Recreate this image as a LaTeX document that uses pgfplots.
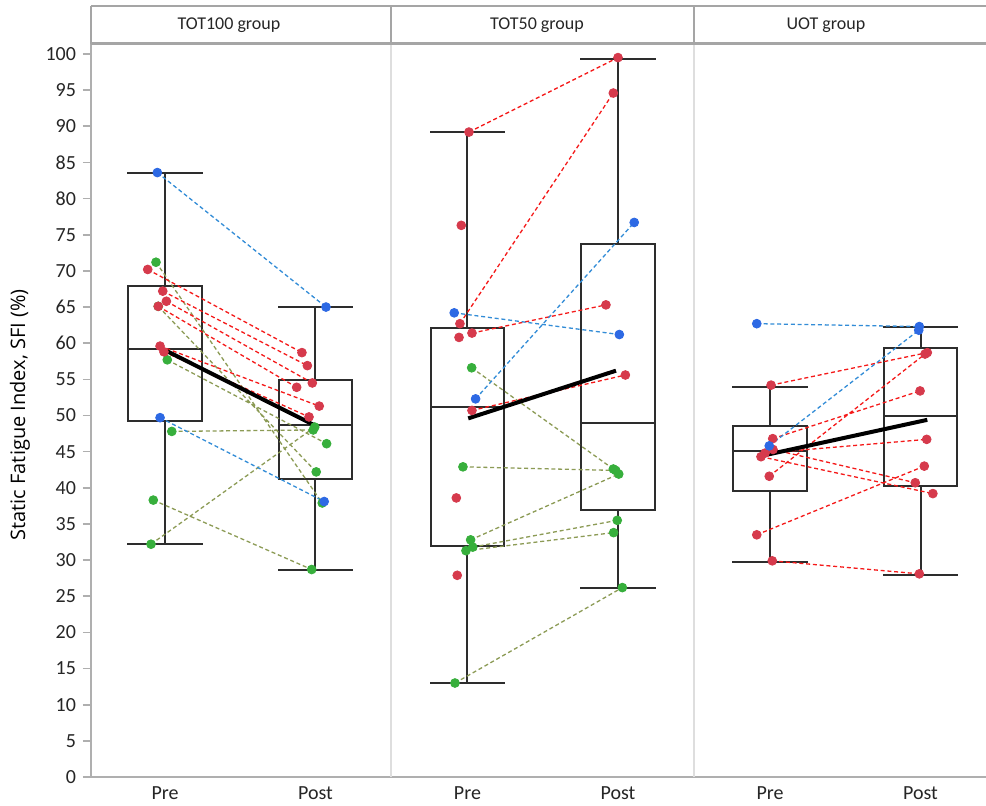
\documentclass[border=0pt]{standalone}
\usepackage{pgfplots}
\pgfplotsset{compat=1.18}
\usepackage{fontspec}
\setmainfont{Carlito}
\newfontfamily\labfont{Open Sans}

\definecolor{redpt}{RGB}{214,58,76}
\definecolor{redln}{RGB}{245,25,25}
\definecolor{bluept}{RGB}{45,105,228}
\definecolor{blueln}{RGB}{50,140,215}
\definecolor{greenpt}{RGB}{55,175,60}
\definecolor{greenln}{RGB}{140,155,85}
\definecolor{boxc}{RGB}{45,45,45}
\definecolor{axgray}{RGB}{175,175,175}
\definecolor{divgray}{RGB}{222,222,222}
\definecolor{hdrgray}{RGB}{165,165,165}

\pgfplotsset{
  panel/.style={
    scale only axis, height=366.5pt, ymin=0, ymax=101.38,
    axis lines*=left,
    axis line style={draw=axgray, line width=1pt},
    xtick={1,2}, xticklabels={Pre,Post},
    x tick style={draw=none},
    xticklabel style={yshift=2.5pt},
    tick align=outside, major tick length=4pt,
    y tick style={draw=axgray, line width=0.8pt},
    tick label style={font=\fontsize{10pt}{12pt}\selectfont, text=black!85},
    /pgf/number format/assume math mode=true,
    clip=false,
  },
  dl/.style={dash pattern=on 2pt off 1.4pt, line width=0.65pt, forget plot, unbounded coords=jump, mark=none},
  pts/.style={only marks, mark=*, mark size=2.2pt, forget plot},
  boxs/.style={draw=boxc, line width=1pt, solid, mark=none, forget plot, unbounded coords=jump, line cap=rect, line join=miter},
  meanl/.style={black, line width=2pt, mark=none, forget plot},
}

\begin{document}
\begin{tikzpicture}
\fill[white] (0pt,0pt) rectangle (493pt,-402.5pt);

% ---------------- Panel 1: TOT100 ----------------
\begin{axis}[panel, at={(45.5pt,-388.5pt)}, anchor=south west,
  width=150pt, xmin=0.508, xmax=2.502,
  ytick={0,5,...,100},
  ylabel={\labfont\fontsize{10pt}{12pt}\selectfont Static Fatigue Index, SFI (\%)},
  ylabel style={at={(axis description cs:-0.237,0.494)}, anchor=center},
]
% boxes: Pre (lw 32.2, q1 49.3, med 59.2, q3 67.9, uw 83.6); Post (28.7, 41.2, 48.7, 54.9, 65.0)
\addplot[boxs] coordinates {
 (0.755,49.3) (1.245,49.3) (1.245,67.9) (0.755,67.9) (0.755,49.3) (1,nan)
 (0.755,59.2) (1.245,59.2) (1,nan)
 (1,49.3) (1,32.2) (1,nan) (0.755,32.2) (1.245,32.2) (1,nan)
 (1,67.9) (1,83.6) (1,nan) (0.755,83.6) (1.245,83.6) (1,nan)
 (1.755,41.2) (2.245,41.2) (2.245,54.9) (1.755,54.9) (1.755,41.2) (1,nan)
 (1.755,48.7) (2.245,48.7) (1,nan)
 (2,41.2) (2,28.7) (1,nan) (1.755,28.7) (2.245,28.7) (1,nan)
 (2,54.9) (2,65.0) (1,nan) (1.755,65.0) (2.245,65.0)
};
% lines
\addplot[dl, greenln] coordinates {(0.940,71.2) (2.045,37.9) (1,nan) (0.955,65.1) (2.005,42.2) (1,nan) (1.015,57.7) (2.074,46.1) (1,nan) (1.045,47.8) (1.985,48.0) (1,nan) (0.907,32.2) (1.995,48.4) (1,nan) (0.922,38.3) (1.975,28.7)};
\addplot[dl, redln] coordinates {(0.885,70.2) (1.910,58.7) (1,nan) (0.985,67.2) (1.946,56.9) (1,nan) (1.009,65.8) (1.979,54.5) (1,nan) (0.955,65.1) (1.875,53.9) (1,nan) (0.967,59.6) (2.025,51.3) (1,nan) (0.993,58.8) (1.957,49.8)};
\addplot[dl, blueln] coordinates {(0.949,83.6) (2.070,65.0) (1,nan) (0.967,49.7) (2.058,38.1)};
% points
\addplot[pts, greenpt] coordinates {(0.940,71.2) (0.955,65.1) (1.015,57.7) (1.045,47.8) (0.922,38.3) (0.907,32.2) (2.045,37.9) (2.005,42.2) (2.074,46.1) (1.985,48.0) (1.995,48.4) (1.975,28.7)};
\addplot[pts, redpt] coordinates {(0.885,70.2) (0.985,67.2) (1.009,65.8) (0.955,65.1) (0.967,59.6) (0.993,58.8) (1.910,58.7) (1.946,56.9) (1.979,54.5) (1.875,53.9) (2.025,51.3) (1.957,49.8)};
\addplot[pts, bluept] coordinates {(0.949,83.6) (0.967,49.7) (2.070,65.0) (2.058,38.1)};
\addplot[meanl] coordinates {(1.007,58.96) (2.008,48.5)};
\end{axis}

% ---------------- Panel 2: TOT50 ----------------
\begin{axis}[panel, at={(195.5pt,-388.5pt)}, anchor=south west,
  width=151.5pt, xmin=0.492, xmax=2.505,
  ytick=\empty,
  y axis line style={draw=divgray, line width=1pt},
]
% boxes: Pre (13.0, 31.9, 51.2, 62.1, 89.2); Post (26.1, 36.9, 48.9, 73.7, 99.3)
\addplot[boxs] coordinates {
 (0.755,31.9) (1.245,31.9) (1.245,62.1) (0.755,62.1) (0.755,31.9) (1,nan)
 (0.755,51.2) (1.245,51.2) (1,nan)
 (1,31.9) (1,13.0) (1,nan) (0.755,13.0) (1.245,13.0) (1,nan)
 (1,62.1) (1,89.2) (1,nan) (0.755,89.2) (1.245,89.2) (1,nan)
 (1.755,36.9) (2.245,36.9) (2.245,73.7) (1.755,73.7) (1.755,36.9) (1,nan)
 (1.755,48.9) (2.245,48.9) (1,nan)
 (2,36.9) (2,26.1) (1,nan) (1.755,26.1) (2.245,26.1) (1,nan)
 (2,73.7) (2,99.3) (1,nan) (1.755,99.3) (2.245,99.3)
};
\addplot[dl, greenln] coordinates {(1.028,56.6) (1.969,42.6) (1,nan) (0.970,42.9) (1.985,42.4) (1,nan) (1.021,32.8) (2.005,41.9) (1,nan) (1.035,31.8) (1.995,35.5) (1,nan) (0.990,31.3) (1.971,33.8) (1,nan) (0.917,13.0) (2.029,26.2)};
\addplot[dl, redln] coordinates {(1.010,89.2) (2.000,99.5) (1,nan) (0.950,62.7) (1.969,94.6) (1,nan) (1.030,61.4) (1.920,65.3) (1,nan) (1.030,50.7) (2.049,55.6)};
\addplot[dl, blueln] coordinates {(0.912,64.2) (2.009,61.2) (1,nan) (1.054,52.3) (2.108,76.7)};
\addplot[pts, greenpt] coordinates {(1.028,56.6) (0.970,42.9) (1.021,32.8) (1.035,31.8) (0.990,31.3) (0.917,13.0) (1.969,42.6) (1.985,42.4) (2.005,41.9) (1.995,35.5) (1.971,33.8) (2.029,26.2)};
\addplot[pts, redpt] coordinates {(1.010,89.2) (0.959,76.3) (0.950,62.7) (1.030,61.4) (0.944,60.8) (1.030,50.7) (0.926,38.6) (0.932,27.9) (2.000,99.5) (1.969,94.6) (1.920,65.3) (2.049,55.6)};
\addplot[pts, bluept] coordinates {(0.912,64.2) (1.054,52.3) (2.108,76.7) (2.009,61.2)};
\addplot[meanl] coordinates {(1.005,49.6) (1.987,56.2)};
\end{axis}

% ---------------- Panel 3: UOT ----------------
\begin{axis}[panel, at={(347pt,-388.5pt)}, anchor=south west,
  width=146pt, xmin=0.495, xmax=2.435,
  ytick=\empty,
  y axis line style={draw=divgray, line width=1pt},
]
% boxes: Pre (29.8, 39.5, 45.1, 48.5, 54.0); Post (27.9, 40.3, 49.9, 59.3, 62.2)
\addplot[boxs] coordinates {
 (0.755,39.5) (1.245,39.5) (1.245,48.5) (0.755,48.5) (0.755,39.5) (1,nan)
 (0.755,45.1) (1.245,45.1) (1,nan)
 (1,39.5) (1,29.8) (1,nan) (0.755,29.8) (1.245,29.8) (1,nan)
 (1,48.5) (1,54.0) (1,nan) (0.755,54.0) (1.245,54.0) (1,nan)
 (1.755,40.3) (2.245,40.3) (2.245,59.3) (1.755,59.3) (1.755,40.3) (1,nan)
 (1.755,49.9) (2.245,49.9) (1,nan)
 (2,40.3) (2,27.9) (1,nan) (1.755,27.9) (2.245,27.9) (1,nan)
 (2,59.3) (2,62.2) (1,nan) (1.755,62.2) (2.245,62.2)
};
\addplot[dl, redln] coordinates {(1.007,54.2) (2.045,58.7) (1,nan) (0.995,41.6) (2.030,58.5) (1,nan) (1.018,46.8) (1.997,53.4) (1,nan) (0.967,44.8) (2.041,46.7) (1,nan) (1.020,45.3) (1.965,40.7) (1,nan) (0.940,44.3) (2.082,39.2) (1,nan) (0.912,33.5) (2.025,43.0) (1,nan) (1.015,29.9) (1.992,28.1)};
\addplot[dl, blueln] coordinates {(0.912,62.7) (1.992,62.3) (1,nan) (0.995,45.8) (1.988,61.8)};
\addplot[pts, redpt] coordinates {(1.007,54.2) (0.995,41.6) (1.018,46.8) (0.967,44.8) (1.020,45.3) (0.940,44.3) (0.912,33.5) (1.015,29.9) (2.045,58.7) (2.030,58.5) (1.997,53.4) (2.041,46.7) (1.965,40.7) (2.082,39.2) (2.025,43.0) (1.992,28.1)};
\addplot[pts, bluept] coordinates {(0.912,62.7) (0.995,45.8) (1.992,62.3) (1.988,61.8)};
\addplot[meanl] coordinates {(0.940,44.4) (2.045,49.4)};
\end{axis}

% ---------------- Header strip ----------------
\draw[hdrgray, line width=1.1pt] (45.5pt,-3pt) -- (493pt,-3pt);
\draw[hdrgray, line width=1.1pt] (45.5pt,-21.75pt) -- (493pt,-21.75pt);
\draw[hdrgray, line width=1.1pt] (45.5pt,-3pt) -- (45.5pt,-21.75pt);
\draw[hdrgray, line width=1.1pt] (195.5pt,-3pt) -- (195.5pt,-21.75pt);
\draw[hdrgray, line width=1.1pt] (347pt,-3pt) -- (347pt,-21.75pt);
\node[font=\fontsize{9pt}{11pt}\selectfont, text=black!85] at (114.5pt,-12.5pt) {TOT100 group};
\node[font=\fontsize{9pt}{11pt}\selectfont, text=black!85] at (268.5pt,-12.5pt) {TOT50 group};
\node[font=\fontsize{9pt}{11pt}\selectfont, text=black!85] at (413pt,-12.5pt) {UOT group};

\pgfresetboundingbox
\path[use as bounding box] (0pt,0pt) rectangle (493pt,-402.5pt);
\end{tikzpicture}
\end{document}
